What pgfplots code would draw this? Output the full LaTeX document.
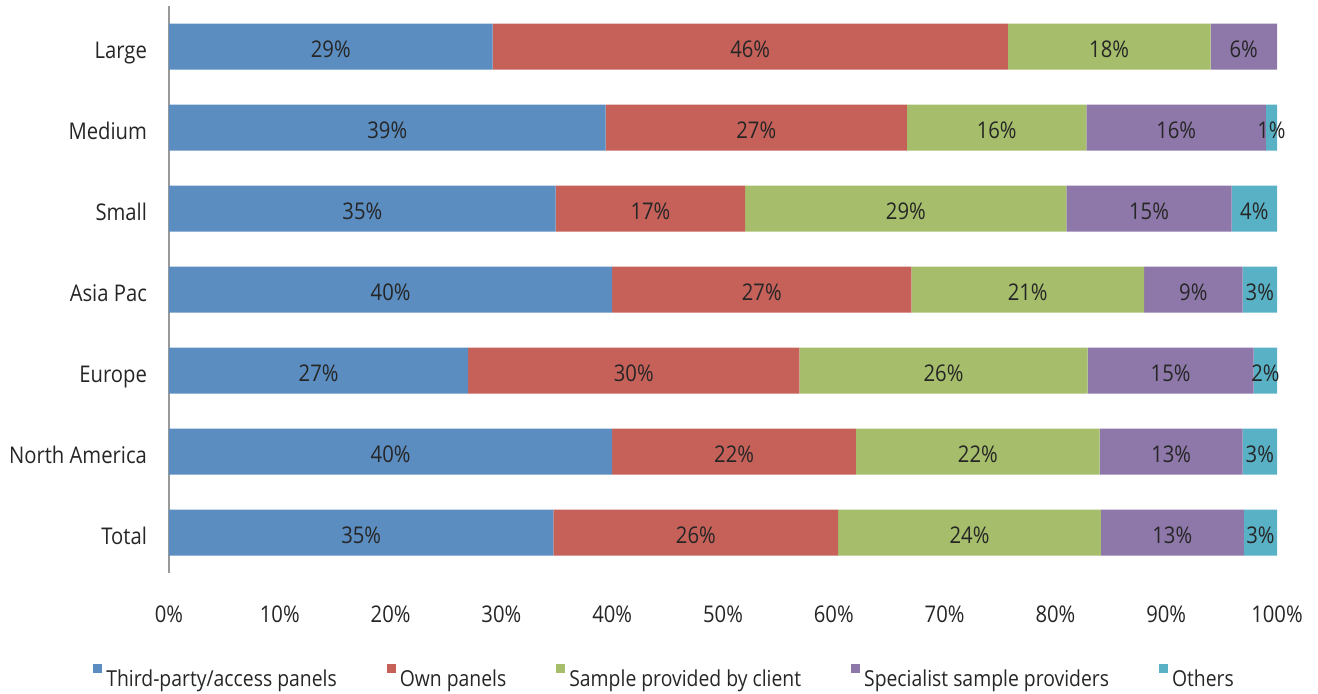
\documentclass[border=0pt]{standalone}
\usepackage{fontspec}
\setmainfont{Open Sans}[FakeStretch=0.88]
\usepackage{pgfplots}
\usepackage{pgfplotstable}
\pgfplotsset{compat=1.18}
\definecolor{cA}{HTML}{5B8DC0}
\definecolor{cB}{HTML}{C6615A}
\definecolor{cC}{HTML}{A6BE6B}
\definecolor{cD}{HTML}{8E78A9}
\definecolor{cE}{HTML}{59B1C6}
\pgfplotstableread{
y a b c d e
0 34.7 25.7 23.7 12.9 3.0
1 40.0 22.0 22.0 12.9 3.1
2 27.0 29.9 26.0 15.0 2.1
3 40.0 27.0 21.0 8.9 3.1
4 34.9 17.1 29.0 14.9 4.1
5 39.4 27.2 16.2 16.2 1.0
6 29.2 46.5 18.3 6.0 0.0
}\datatable
\pgfplotstableread{
x y lab
14.6 6 29\%
52.45 6 46\%
84.85 6 18\%
97.0 6 6\%
19.7 5 39\%
53.0 5 27\%
74.7 5 16\%
90.9 5 16\%
99.5 5 1\%
17.45 4 35\%
43.45 4 17\%
66.5 4 29\%
88.45 4 15\%
97.95 4 4\%
20.0 3 40\%
53.5 3 27\%
77.5 3 21\%
92.45 3 9\%
98.45 3 3\%
13.5 2 27\%
41.95 2 30\%
69.9 2 26\%
90.4 2 15\%
98.95 2 2\%
20.0 1 40\%
51.0 1 22\%
73.0 1 22\%
90.45 1 13\%
98.45 1 3\%
17.35 0 35\%
47.55 0 26\%
72.25 0 24\%
90.55 0 13\%
98.5 0 3\%
}\labtable
\begin{document}
\fontsize{11.5bp}{13.8bp}\selectfont
\begin{tikzpicture}
\begin{axis}[
  name=ax,
  scale only axis,
  width=554bp, height=283.5bp,
  xbar stacked, bar width=23bp,
  xmin=0, xmax=100, ymin=-0.5, ymax=6.5,
  axis lines*=left,
  x axis line style={draw=none},
  y axis line style={draw=black!40, line width=0.8bp, -},
  major tick length=0,
  xtick={0,10,...,100},
  xticklabels={0\%,10\%,20\%,30\%,40\%,50\%,60\%,70\%,80\%,90\%,100\%},
  ytick={0,...,6},
  yticklabels={Total,North America,Europe,Asia Pac,Small,Medium,Large},
  /pgf/number format/assume math mode=true,
  xticklabel style={anchor=base, yshift=-24.5bp, text=black!85, font=\fontsize{11.5bp}{13.8bp}\selectfont},
  yticklabel style={anchor=base east, xshift=-7bp, yshift=-5.8bp, text=black!85, font=\fontsize{11.5bp}{13.8bp}\selectfont},
  legend columns=5,
  legend style={draw=none, fill=none, at={(-0.0686,-0.160)}, anchor=north west,
    font=\fontsize{11bp}{13.2bp}\selectfont, inner sep=0pt, text=black!85,
    /tikz/every odd column/.append style={column sep=0.5bp},
    /tikz/every even column/.append style={column sep=23.5bp}},
  legend cell align=left,
  legend style={nodes={inner sep=1.5bp}},
]
\addplot[fill=cA, draw=none, legend image code/.code={\fill[cA] (0bp,3.5bp) rectangle (4.5bp,8bp);}] table[x=a, y=y] {\datatable};
\addplot[fill=cB, draw=none, legend image code/.code={\fill[cB] (0bp,3.5bp) rectangle (4.5bp,8bp);}] table[x=b, y=y] {\datatable};
\addplot[fill=cC, draw=none, legend image code/.code={\fill[cC] (0bp,3.5bp) rectangle (4.5bp,8bp);}] table[x=c, y=y] {\datatable};
\addplot[fill=cD, draw=none, legend image code/.code={\fill[cD] (0bp,3.5bp) rectangle (4.5bp,8bp);}] table[x=d, y=y] {\datatable};
\addplot[fill=cE, draw=none, legend image code/.code={\fill[cE] (0bp,3.5bp) rectangle (4.5bp,8bp);}] table[x=e, y=y] {\datatable};
\legend{Third-party/access panels, Own panels, Sample provided by client, Specialist sample providers, Others}
\end{axis}
\begin{axis}[
  at={(ax.south west)}, anchor=south west,
  scale only axis,
  width=554bp, height=283.5bp,
  xmin=0, xmax=100, ymin=-0.5, ymax=6.5,
  hide axis,
]
\addplot[draw=none, nodes near coords, point meta=explicit symbolic,
  every node near coord/.style={anchor=center, yshift=-1.5bp, text=black!85, font=\fontsize{11.5bp}{13.8bp}\selectfont}]
  table[x=x, y=y, meta=lab] {\labtable};
\end{axis}
\pgfresetboundingbox
\path[use as bounding box] (ax.south west) ++(-84.5bp,-60.5bp) rectangle ++(659bp,347bp);
\end{tikzpicture}
\end{document}
